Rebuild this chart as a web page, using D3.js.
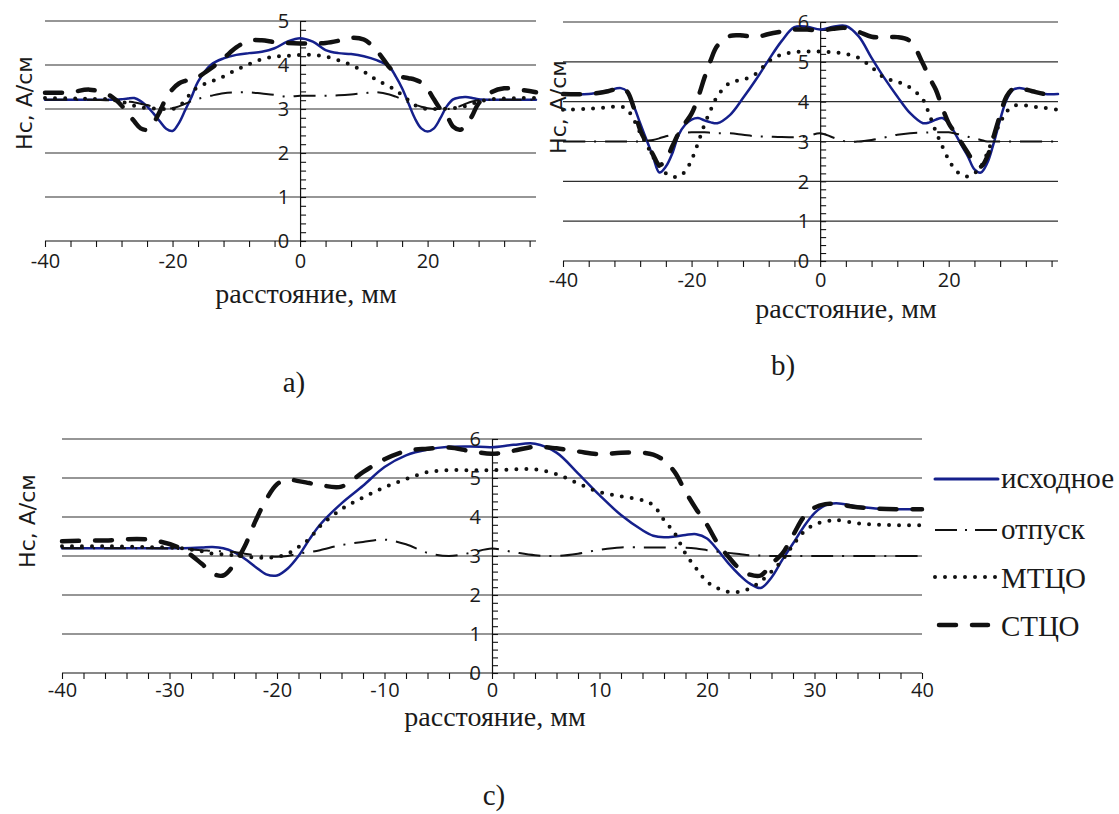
<!DOCTYPE html>
<html>
<head>
<meta charset="utf-8">
<script src="https://cdn.jsdelivr.net/npm/d3@7"></script>
<style>
  body { margin: 0; background: #fff; }
  svg text { fill: #1a1a1a; }
  .tick-lbl { font-family: "Open Sans", sans-serif; font-size: 20px; }
  .ytitle { font-family: "DejaVu Sans", sans-serif; font-size: 22px; }
  .serif { font-family: "Liberation Serif", "Times New Roman", serif; font-size: 29px; }
  .xtitle { font-family: "Liberation Serif", "Times New Roman", serif; font-size: 28px; }
</style>
</head>
<body>
<div id="chart"></div>
<script>
// ---------- DATA ----------
// series names
var seriesNames = ["исходное", "отпуск", "МТЦО", "СТЦО"];

// panel a)
var distA = [-40,-36,-33,-30,-29,-28,-27,-26,-25,-24,-23,-22,-21,-20,-19,-18,-17,-16,-14,-12,-10,-8,-6,-4,-2,0,2,4,6,8,10,12,14,15,16,17,18,19,20,21,22,23,24,25,26,27,28,30,32,35,37];
var origA  = [3.21,3.21,3.21,3.21,3.21,3.22,3.24,3.25,3.18,3.06,2.9,2.72,2.55,2.5,2.68,2.98,3.28,3.62,4.0,4.15,4.23,4.27,4.3,4.38,4.53,4.61,4.53,4.34,4.27,4.25,4.2,4.11,3.96,3.74,3.47,3.13,2.79,2.56,2.49,2.56,2.79,3.06,3.22,3.26,3.27,3.25,3.22,3.21,3.21,3.21,3.21];
var tempA  = [3.21,3.21,3.21,3.2,3.2,3.19,3.17,3.15,3.12,3.09,3.05,3.02,3.01,3.02,3.06,3.12,3.18,3.23,3.3,3.36,3.38,3.38,3.35,3.32,3.28,3.3,3.3,3.3,3.31,3.33,3.36,3.38,3.33,3.28,3.22,3.15,3.1,3.05,3.02,3.0,3.0,3.0,3.02,3.06,3.12,3.17,3.2,3.21,3.21,3.21,3.21];
var mtcoA  = [3.25,3.24,3.23,3.22,3.2,3.17,3.12,3.07,3.04,3.02,3.01,3.0,3.0,3.0,3.06,3.2,3.38,3.5,3.62,3.74,3.89,4.02,4.13,4.19,4.21,4.23,4.23,4.19,4.11,4.0,3.85,3.66,3.51,3.42,3.32,3.2,3.09,3.03,3.0,3.0,3.0,3.01,3.02,3.04,3.07,3.12,3.17,3.22,3.24,3.25,3.25];
var stcoA  = [3.37,3.38,3.44,3.32,3.22,3.08,2.9,2.72,2.56,2.53,2.68,2.94,3.25,3.45,3.58,3.64,3.68,3.73,3.92,4.15,4.4,4.55,4.56,4.52,4.5,4.49,4.49,4.5,4.55,4.62,4.58,4.33,3.95,3.8,3.73,3.7,3.67,3.6,3.45,3.22,3.0,2.85,2.6,2.53,2.6,2.85,3.13,3.38,3.47,3.43,3.38];

// panel b)
var distB = [-40,-36,-33,-31,-30,-29,-28,-27,-26,-25,-24,-23,-22,-21,-20,-19,-18,-17,-16,-14,-12,-10,-8,-6,-4,-2,0,2,4,6,8,10,12,14,16,17,18,19,20,21,22,23,24,25,26,27,28,29,30,31,33,35,37];
var origB  = [4.19,4.19,4.28,4.34,4.25,3.9,3.46,3.04,2.62,2.22,2.37,2.7,3.17,3.42,3.55,3.59,3.53,3.48,3.46,3.67,4.09,4.55,5.05,5.52,5.87,5.88,5.81,5.88,5.9,5.64,5.1,4.59,4.13,3.71,3.46,3.48,3.55,3.59,3.46,3.2,2.9,2.62,2.3,2.22,2.46,2.96,3.55,4.05,4.3,4.34,4.26,4.19,4.19];
var tempB  = [3.0,3.0,3.0,3.0,3.0,3.0,3.0,3.02,3.04,3.08,3.13,3.17,3.21,3.22,3.23,3.23,3.23,3.22,3.21,3.21,3.17,3.13,3.12,3.11,3.11,3.13,3.21,3.1,3.0,3.0,3.04,3.1,3.17,3.21,3.22,3.23,3.23,3.23,3.23,3.2,3.17,3.12,3.08,3.04,3.0,3.0,3.0,3.0,3.0,3.0,3.0,3.0,3.0];
var mtcoB  = [3.8,3.82,3.86,3.88,3.8,3.55,3.22,2.92,2.62,2.37,2.2,2.12,2.12,2.25,2.54,2.96,3.42,3.8,4.13,4.48,4.55,4.7,5.01,5.18,5.24,5.26,5.26,5.24,5.2,5.1,4.87,4.6,4.5,4.35,4.05,3.67,3.25,2.88,2.54,2.29,2.16,2.12,2.2,2.37,2.71,3.13,3.46,3.75,3.88,3.92,3.88,3.84,3.8];
var stcoB  = [4.19,4.19,4.26,4.34,4.25,3.85,3.29,2.96,2.67,2.41,2.54,2.88,3.21,3.46,3.7,4.1,4.6,5.05,5.4,5.65,5.66,5.62,5.7,5.76,5.81,5.81,5.78,5.83,5.85,5.75,5.63,5.61,5.62,5.52,4.95,4.6,4.3,3.85,3.46,3.21,2.96,2.71,2.46,2.37,2.62,3.13,3.67,4.13,4.32,4.34,4.26,4.19,4.19];

// panel c)
var distC = [-40,-36,-32,-29,-27,-26,-25,-24,-23,-22,-21,-20,-19,-18,-17,-16,-14,-12,-10,-8,-6,-4,-2,0,2,4,6,8,10,12,14,15,16,17,18,19,20,21,22,23,24,25,26,27,28,29,30,31,32,34,36,38,40];
var origC  = [3.2,3.2,3.2,3.2,3.22,3.23,3.2,3.1,2.93,2.72,2.53,2.5,2.68,3.0,3.42,3.8,4.35,4.8,5.28,5.58,5.73,5.8,5.81,5.79,5.85,5.88,5.65,5.12,4.56,4.05,3.66,3.52,3.48,3.5,3.54,3.56,3.45,3.15,2.81,2.52,2.29,2.18,2.45,2.9,3.32,3.75,4.1,4.3,4.35,4.27,4.21,4.2,4.2];
var tempC  = [3.2,3.2,3.2,3.18,3.15,3.13,3.12,3.1,3.06,3.02,3.0,2.98,3.0,3.06,3.1,3.15,3.28,3.36,3.42,3.3,3.08,3.0,3.08,3.19,3.1,3.02,3.0,3.06,3.16,3.22,3.22,3.22,3.22,3.21,3.21,3.19,3.15,3.11,3.08,3.05,3.02,3.01,3.0,3.0,3.0,3.0,3.0,3.0,3.0,3.0,3.0,3.0,3.0];
var mtcoC  = [3.25,3.25,3.23,3.2,3.12,3.06,3.04,3.02,2.99,2.96,2.96,2.98,3.06,3.23,3.44,3.76,4.2,4.5,4.76,4.97,5.15,5.2,5.2,5.2,5.22,5.22,5.1,4.86,4.64,4.53,4.43,4.3,3.92,3.58,3.06,2.68,2.34,2.17,2.08,2.08,2.17,2.35,2.6,2.89,3.28,3.62,3.81,3.88,3.92,3.84,3.8,3.79,3.79];
var stcoC  = [3.38,3.4,3.42,3.2,2.8,2.55,2.5,2.78,3.25,3.9,4.45,4.84,4.96,4.92,4.87,4.82,4.78,5.15,5.48,5.69,5.75,5.78,5.69,5.62,5.7,5.8,5.76,5.68,5.61,5.65,5.65,5.6,5.45,5.15,4.65,4.2,3.8,3.32,2.98,2.68,2.52,2.5,2.8,3.06,3.53,4.0,4.24,4.33,4.33,4.25,4.21,4.2,4.2];

// ---------- STYLES ----------
var lineStyles = [
  { stroke: "#15208c", width: 2.5, dash: null,        cap: "round" },
  { stroke: "#111",    width: 2,   dash: "22,9,2,9",  cap: "butt"  },
  { stroke: "#111",    width: 4,   dash: "0,10",      cap: "round" },
  { stroke: "#111",    width: 4.5, dash: "17,16",     cap: "round" }
];

var svg = d3.select("#chart").append("svg")
    .attr("width", 1119)
    .attr("height", 814);

//Draw one panel of the figure
function drawPanel(cfg) {
  var x = d3.scaleLinear().domain(cfg.xDomain).range(cfg.xRange);
  var y = d3.scaleLinear().domain([0, cfg.yMax]).range(cfg.yRange);
  var g = svg.append("g");

  //horizontal gridlines
  g.selectAll(".grid")
    .data(d3.range(1, cfg.yMax + 1))
    .enter().append("line")
    .attr("x1", cfg.xRange[0]).attr("x2", cfg.xRange[1])
    .attr("y1", d => y(d)).attr("y2", d => y(d))
    .attr("stroke", "#2e2e2e").attr("stroke-width", 1.2);

  //x axis at y=0
  var xTicks = d3.range(cfg.xDomain[0], cfg.xDomain[1] + 0.01, cfg.xTickStep);
  var xAxis = d3.axisBottom(x).tickValues(xTicks).tickSize(6).tickSizeOuter(0)
      .tickFormat(d => cfg.xLabels.indexOf(d) >= 0 ? String(d) : "");
  var xg = g.append("g").attr("transform", `translate(0,${y(0)})`).call(xAxis);
  xg.select(".domain").attr("stroke", "#111").attr("stroke-width", 1.2)
    .attr("d", `M${cfg.xRange[0]},0H${cfg.xRange[1]}`);
  xg.selectAll(".tick line").attr("stroke", "#111").attr("stroke-width", 1.1);
  xg.selectAll(".tick text").attr("class", "tick-lbl").attr("fill", "#1a1a1a")
    .attr("y", cfg.xLabelDy).attr("dy", 0);

  //y axis at x=0, minor ticks to the right
  var yTicks = d3.range(0, cfg.yMax + 0.001, 0.2);
  var yAxis = d3.axisRight(y).tickValues(yTicks).tickSize(6).tickSizeOuter(0).tickFormat("");
  var yg = g.append("g").attr("transform", `translate(${x(0)},0)`).call(yAxis);
  yg.select(".domain").attr("stroke", "#111").attr("stroke-width", 1.2);
  yg.selectAll(".tick line").attr("stroke", "#111").attr("stroke-width", 1.1);

  //series
  var line = d3.line().curve(d3.curveCatmullRom.alpha(0.5));
  cfg.series.forEach(function(vals, i) {
    var st = lineStyles[i];
    g.append("path")
      .attr("d", line(cfg.dist.map((d, j) => [x(d), y(vals[j])])))
      .attr("fill", "none")
      .attr("stroke", st.stroke)
      .attr("stroke-width", st.width)
      .attr("stroke-linecap", st.cap)
      .attr("stroke-linejoin", "round")
      .attr("stroke-dasharray", st.dash);
  });

  //y tick labels
  g.selectAll(".ylbl")
    .data(d3.range(0, cfg.yMax + 1))
    .enter().append("text")
    .attr("class", "tick-lbl")
    .attr("x", x(0) - 11)
    .attr("y", d => y(d))
    .attr("dy", "0.36em")
    .attr("text-anchor", "end")
    .text(d => d);

  //axis titles
  g.append("text").attr("class", "xtitle")
    .attr("x", cfg.xTitle[0]).attr("y", cfg.xTitle[1])
    .attr("text-anchor", "middle")
    .text("расстояние, мм");

  g.append("text").attr("class", "ytitle")
    .attr("transform", `translate(${cfg.yTitle[0]},${cfg.yTitle[1]}) rotate(-90)`)
    .attr("text-anchor", "middle")
    .attr("dy", "0.36em")
    .text("Нс, А/см");

  //panel letter
  g.append("text").attr("class", "serif")
    .attr("x", cfg.tag[0]).attr("y", cfg.tag[1])
    .attr("text-anchor", "middle")
    .text(cfg.tagText);

  return { x: x, y: y };
}

drawPanel({
  dist: distA, series: [origA, tempA, mtcoA, stcoA],
  xDomain: [-40, 37], xRange: [45, 536], yMax: 5, yRange: [241, 21],
  xTickStep: 4, xLabels: [-40, -20, 0, 20], xLabelDy: 27,
  xTitle: [306, 303], yTitle: [24, 103], tag: [294, 392], tagText: "a)"
});

drawPanel({
  dist: distB, series: [origB, tempB, mtcoB, stcoB],
  xDomain: [-40, 37], xRange: [563, 1058], yMax: 6, yRange: [261, 22],
  xTickStep: 4, xLabels: [-40, -20, 0, 20], xLabelDy: 26,
  xTitle: [846, 318], yTitle: [558, 107], tag: [783, 375], tagText: "b)"
});

drawPanel({
  dist: distC, series: [origC, tempC, mtcoC, stcoC],
  xDomain: [-40, 40], xRange: [62, 922], yMax: 6, yRange: [673, 439],
  xTickStep: 2, xLabels: [-40, -30, -20, -10, 0, 10, 20, 30, 40], xLabelDy: 24,
  xTitle: [495, 726], yTitle: [27, 521], tag: [494, 805], tagText: "c)"
});

//LEGEND for panel c
var legendY = [479, 530, 577, 625];
var legend = svg.append("g");
seriesNames.forEach(function(name, i) {
  var st = lineStyles[i];
  var x1 = 935, x2 = 998;
  if (i === 3) { x1 = 939; x2 = 988; }
  legend.append("line")
    .attr("x1", x1).attr("x2", x2)
    .attr("y1", legendY[i]).attr("y2", legendY[i])
    .attr("stroke", st.stroke)
    .attr("stroke-width", i === 0 ? 3 : st.width)
    .attr("stroke-linecap", st.cap)
    .attr("stroke-dasharray", i === 1 ? "22,8,2,8" : st.dash);
  legend.append("text").attr("class", "serif")
    .attr("x", 1001)
    .attr("y", legendY[i] + (i < 2 ? 9 : 11))
    .text(name);
});
</script>
</body>
</html>
